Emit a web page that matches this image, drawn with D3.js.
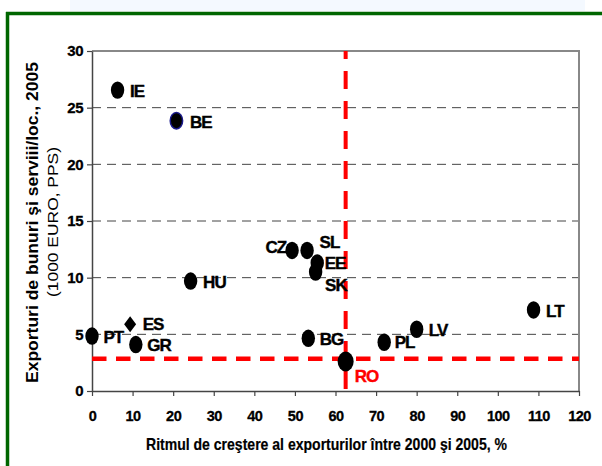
<!DOCTYPE html>
<html>
<head>
<meta charset="utf-8">
<script src="https://cdn.jsdelivr.net/npm/d3@7"></script>
<style>
  html, body { margin: 0; padding: 0; background: #fff; }
  svg { display: block; font-family: "Liberation Sans", Arial, sans-serif; }
</style>
</head>
<body>
<svg id="chart" width="602" height="466"></svg>
<script>
// ---- data ----
const countries = ["IE", "BE", "CZ", "SL", "EE", "SK", "HU", "ES", "PT", "GR", "BG", "PL", "LV", "LT", "RO"];
const growth    = [6.3, 20.8, 49.3, 53.0, 55.5, 55.1, 24.3, 9.4, 0.0, 10.8, 53.3, 72.0, 80.0, 108.8, 62.5];
const exportsPc = [26.55, 23.85, 12.4, 12.4, 11.3, 10.5, 9.7, 5.9, 4.85, 4.1, 4.65, 4.3, 5.45, 7.15, 2.6];
const xTicks = [0, 10, 20, 30, 40, 50, 60, 70, 80, 90, 100, 110, 120];
const yTicks = [0, 5, 10, 15, 20, 25, 30];
const refX = 62.5;   // Romania growth reference line
const refY = 2.85;   // Romania exports reference line
const xTitle = "Ritmul de creştere al exporturilor între 2000 şi 2005, %";
const yTitle1 = "Exporturi de bunuri şi serviii/loc., 2005";
const yTitle2 = "(1000 EURO, PPS)";

// ---- layout / style (not data) ----
const labelLayout = {
  IE: [12.5, 7], BE: [13.5, 7], CZ: [-6, 2.5, "end"], SL: [12.5, -2], EE: [7.5, 6], SK: [9.5, 19],
  HU: [12.5, 6.6], ES: [12.5, 6], PT: [11.5, 6.7], GR: [11.5, 6.4], BG: [11.5, 6.7], PL: [10.5, 6],
  LV: [12.2, 6.7], LT: [12.5, 7], RO: [9, 20]
};
const diamondSet = new Set(["ES"]);

const svg = d3.select("#chart");
const pLeft = 92, pRight = 579, pTop = 51, pBottom = 391;

// frame
svg.append("rect").attr("x", 70).attr("y", 0).attr("width", 515).attr("height", 11).attr("fill", "#f4f9ff");
svg.append("line").attr("x1", 6).attr("x2", 602).attr("y1", 13.5).attr("y2", 13.5)
  .attr("stroke", "#006600").attr("stroke-width", 3.5);
svg.append("line").attr("x1", 7.5).attr("x2", 7.5).attr("y1", 12).attr("y2", 466)
  .attr("stroke", "#006600").attr("stroke-width", 3.5);

const x = d3.scaleLinear().domain([0, 120]).range([pLeft, pRight]);
const y = d3.scaleLinear().domain([0, 30]).range([pBottom, pTop]);

// gridlines
svg.append("g").selectAll("line").data(yTicks.filter(v => v > 0 && v < 30)).join("line")
  .attr("x1", pLeft).attr("x2", pRight).attr("y1", d => y(d)).attr("y2", d => y(d))
  .attr("stroke", "#444").attr("stroke-width", 1).attr("stroke-dasharray", "9,6");

// plot border top/right
svg.append("path").attr("d", `M${pLeft},${pTop}H${pRight}V${pBottom}`)
  .attr("fill", "none").attr("stroke", "#888").attr("stroke-width", 2);

// axes
const xAxis = svg.append("g").attr("transform", `translate(0,${pBottom})`)
  .call(d3.axisBottom(x).tickValues(xTicks).tickSize(5).tickSizeOuter(0));
const yAxis = svg.append("g").attr("transform", `translate(${pLeft},0)`)
  .call(d3.axisLeft(y).tickValues(yTicks).tickSize(5).tickPadding(4).tickSizeOuter(0));
[xAxis, yAxis].forEach(a => {
  a.select(".domain").attr("stroke", "#444").attr("stroke-width", 1.5);
  a.selectAll(".tick line").attr("stroke", "#444").attr("stroke-width", 1.2);
});
xAxis.selectAll(".tick text").attr("y", 30).attr("dy", 0)
  .attr("font-size", 14.5).attr("font-weight", "bold").attr("fill", "#000").attr("font-family", null)
  .attr("stroke", "#000").attr("stroke-width", 0.3).attr("letter-spacing", -0.5);
yAxis.selectAll(".tick text")
  .attr("font-size", 15).attr("font-weight", "bold").attr("fill", "#000").attr("font-family", null)
  .attr("stroke", "#000").attr("stroke-width", 0.3).attr("letter-spacing", -0.5);

// reference lines
svg.append("line").attr("x1", x(refX)).attr("x2", x(refX)).attr("y1", pTop).attr("y2", pBottom)
  .attr("stroke", "#ff0000").attr("stroke-width", 4).attr("stroke-dasharray", "18,12").attr("stroke-dashoffset", 10);
svg.append("line").attr("x1", pLeft).attr("x2", pRight).attr("y1", y(refY)).attr("y2", y(refY))
  .attr("stroke", "#ff0000").attr("stroke-width", 4.5).attr("stroke-dasharray", "14.5,9.5");

// points
const pts = countries.map((c, i) => ({ c, gx: growth[i], ey: exportsPc[i] }));
const g = svg.append("g");
pts.forEach(p => {
  const cx = x(p.gx), cy = y(p.ey);
  if (diamondSet.has(p.c)) {
    g.append("path").attr("d", `M${cx},${cy - 8}L${cx + 6},${cy}L${cx},${cy + 8}L${cx - 6},${cy}Z`).attr("fill", "#000");
  } else if (p.c === "RO") {
    g.append("ellipse").attr("cx", cx).attr("cy", cy).attr("rx", 8).attr("ry", 10).attr("fill", "#000");
  } else if (p.c === "BE") {
    g.append("ellipse").attr("cx", cx).attr("cy", cy).attr("rx", 6.2).attr("ry", 8.2).attr("fill", "#000")
      .attr("stroke", "#1a1a8c").attr("stroke-width", 1.5);
  } else {
    g.append("ellipse").attr("cx", cx).attr("cy", cy).attr("rx", 6.7).attr("ry", 8.7).attr("fill", "#000");
  }
});
pts.forEach(p => {
  const L = labelLayout[p.c];
  const col = p.c === "RO" ? "#ff0000" : "#000";
  g.append("text").attr("x", x(p.gx) + L[0]).attr("y", y(p.ey) + L[1])
    .attr("text-anchor", L[2] || "start")
    .attr("font-size", 17).attr("font-weight", "bold")
    .attr("fill", col).attr("stroke", col).attr("stroke-width", 0.4)
    .attr("letter-spacing", -1)
    .text(p.c);
});

// axis titles
svg.append("text").attr("x", 326.5).attr("y", 449.5).attr("text-anchor", "middle")
  .attr("font-size", 16.5).attr("font-weight", "bold")
  .attr("stroke", "#000").attr("stroke-width", 0.2)
  .attr("textLength", 361).attr("lengthAdjust", "spacingAndGlyphs").text(xTitle);
svg.append("text").attr("transform", "translate(37.5,222.5) rotate(-90)").attr("text-anchor", "middle")
  .attr("font-size", 16.5).attr("font-weight", "bold")
  .attr("textLength", 321).attr("lengthAdjust", "spacingAndGlyphs").text(yTitle1);
svg.append("text").attr("transform", "translate(58,222) rotate(-90)").attr("text-anchor", "middle")
  .attr("font-size", 14)
  .attr("textLength", 150).attr("lengthAdjust", "spacingAndGlyphs").text(yTitle2);
</script>
</body>
</html>
